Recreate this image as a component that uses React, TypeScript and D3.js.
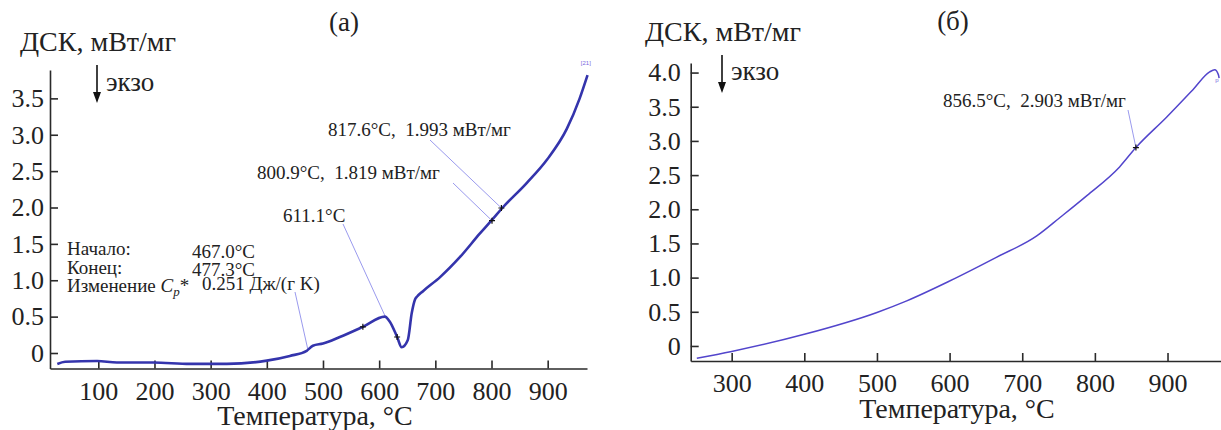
import { useEffect, useRef } from 'react';
import * as d3 from 'd3';

// panel (а): DSC signal, mW/mg, vs temperature, °C
const tempA = [27, 41, 98, 133, 198, 263, 329, 400, 441, 471, 482, 500, 530, 571, 610, 619, 632, 640, 651, 658, 664, 668, 678, 708, 744, 779, 802, 820, 863, 899, 934, 957, 971];
const dscA = [-0.15, -0.12, -0.11, -0.13, -0.13, -0.15, -0.15, -0.105, -0.04, 0.03, 0.1, 0.13, 0.22, 0.36, 0.5, 0.43, 0.22, 0.08, 0.18, 0.55, 0.74, 0.78, 0.85, 1.04, 1.32, 1.64, 1.84, 2.0, 2.34, 2.66, 3.08, 3.5, 3.82];

// panel (б)
const tempB = [252, 300, 400, 500, 541, 600, 665, 720, 752, 789, 834, 856.5, 899, 935, 958, 965, 970, 971];
const dscB = [-0.18, -0.08, 0.17, 0.49, 0.66, 0.95, 1.3, 1.61, 1.88, 2.2, 2.62, 2.903, 3.35, 3.75, 4.01, 4.04, 3.97, 3.92];

const xTicksA = [100, 200, 300, 400, 500, 600, 700, 800, 900];
const yTicksA = [0, 0.5, 1.0, 1.5, 2.0, 2.5, 3.0, 3.5];
const xTicksB = [300, 400, 500, 600, 700, 800, 900];
const yTicksB = [0, 0.5, 1.0, 1.5, 2.0, 2.5, 3.0, 3.5, 4.0];

// small "+" marks put on the curves by the instrument software
const marksA = [[571, 0.36], [632, 0.22], [800.9, 1.819], [817.6, 1.993]];
const marksB = [[856.5, 2.903]];

const SERIF = '"Liberation Serif", "DejaVu Serif", serif';

export default function App() {
  const svgRef = useRef<SVGSVGElement>(null);

  useEffect(() => {
    if (!svgRef.current) return;
    const width = 1221;
    const height = 430;

    d3.select(svgRef.current).selectAll('*').remove();
    const svg = d3
      .select(svgRef.current)
      .attr('viewBox', `0 0 ${width} ${height}`)
      .attr('width', width)
      .attr('height', height);

    // scales
    const xA = d3.scaleLinear().domain([14, 970]).range([50, 587]);
    const yA = d3.scaleLinear().domain([-0.213, 3.89]).range([368.5, 70]);
    const xB = d3.scaleLinear().domain([243.6, 975]).range([690.7, 1222]);
    const yB = d3.scaleLinear().domain([-0.22, 4.14]).range([361, 63]);

    const fmt = (d: d3.NumberValue) => (+d === 0 ? '0' : (+d).toFixed(1));

    const drawAxes = (
      x: d3.ScaleLinear<number, number>,
      y: d3.ScaleLinear<number, number>,
      xt: number[],
      yt: number[],
      yPad: number
    ) => {
      const gx = svg
        .append('g')
        .attr('transform', `translate(0, ${y.range()[0]})`)
        .call(d3.axisBottom(x).tickValues(xt).tickFormat((d) => `${d}`).tickSizeInner(-8).tickSizeOuter(0).tickPadding(13));
      const gy = svg
        .append('g')
        .attr('transform', `translate(${x.range()[0]}, 0)`)
        .call(d3.axisLeft(y).tickValues(yt).tickFormat(fmt).tickSizeInner(-8).tickSizeOuter(0).tickPadding(yPad));
      [gx, gy].forEach((g) => {
        g.attr('font-family', SERIF).attr('font-size', 26);
        g.selectAll('path, line').attr('stroke', '#2a2a2a').attr('stroke-width', 1.6);
        g.selectAll('text').attr('fill', '#222');
      });
    };

    drawAxes(xA, yA, xTicksA, yTicksA, 6);
    drawAxes(xB, yB, xTicksB, yTicksB, 10);

    // curves
    const lineA = d3
      .line<number>()
      .x((d, i) => xA(tempA[i]))
      .y((d) => yA(d))
      .curve(d3.curveMonotoneX);
    const lineB = d3
      .line<number>()
      .x((d, i) => xB(tempB[i]))
      .y((d) => yB(d))
      .curve(d3.curveMonotoneX);

    // leader lines
    const leader = '#9a9aee';
    const leadersA = [
      { from: [430, 140], t: 817.6, v: 1.993 },
      { from: [453, 183], t: 800.9, v: 1.819 },
      { from: [343, 224], t: 611, v: 0.5 },
      { from: [295, 292], t: 473, v: 0.05 },
    ];
    leadersA.forEach((l) => {
      svg
        .append('line')
        .attr('x1', l.from[0])
        .attr('y1', l.from[1])
        .attr('x2', xA(l.t))
        .attr('y2', yA(l.v))
        .attr('stroke', leader)
        .attr('stroke-width', 1);
    });
    svg
      .append('line')
      .attr('x1', 1128)
      .attr('y1', 110)
      .attr('x2', xB(856.5))
      .attr('y2', yB(2.903))
      .attr('stroke', leader)
      .attr('stroke-width', 1);

    svg
      .append('path')
      .datum(dscA)
      .attr('d', lineA)
      .attr('fill', 'none')
      .attr('stroke', '#3434ac')
      .attr('stroke-width', 2.6);
    svg
      .append('path')
      .datum(dscB)
      .attr('d', lineB)
      .attr('fill', 'none')
      .attr('stroke', '#5245cc')
      .attr('stroke-width', 1.5);

    // plus marks
    const plus = (cx: number, cy: number) => {
      svg
        .append('path')
        .attr('d', `M${cx - 3},${cy}H${cx + 3}M${cx},${cy - 3}V${cy + 3}`)
        .attr('stroke', '#111')
        .attr('stroke-width', 1.2);
    };
    marksA.forEach(([t, v]) => plus(xA(t), yA(v)));
    marksB.forEach(([t, v]) => plus(xB(t), yB(v)));

    // tiny end labels of the software
    svg.append('text').attr('x', xA(968)).attr('y', yA(3.9) - 4).attr('text-anchor', 'middle')
      .attr('font-family', 'sans-serif').attr('font-size', 6).attr('fill', '#7a6ae0').text('[21]');
    svg.append('text').attr('x', xB(968)).attr('y', yB(3.86)).attr('text-anchor', 'middle')
      .attr('font-family', 'sans-serif').attr('font-size', 6).attr('fill', '#7a6ae0').text('p');

    const text = (x: number, y: number, s: string, size: number, anchor = 'start') =>
      svg
        .append('text')
        .attr('x', x)
        .attr('y', y)
        .attr('text-anchor', anchor)
        .attr('font-family', SERIF)
        .attr('font-size', size)
        .attr('fill', '#222')
        .text(s);

    // titles
    text(344, 31, '(а)', 27, 'middle');
    text(953, 30, '(б)', 27, 'middle');
    text(20, 51, 'ДСК, мВт/мг', 28);
    text(645, 41, 'ДСК, мВт/мг', 28);
    text(315, 425, 'Температура, °C', 28, 'middle');
    text(957, 418, 'Температура, °C', 28, 'middle');

    // exo arrows
    const exo = (x: number, y0: number, y1: number, dy: number) => {
      svg.append('line').attr('x1', x).attr('y1', y0).attr('x2', x).attr('y2', y1 - 8)
        .attr('stroke', '#111').attr('stroke-width', 1.6);
      svg.append('path').attr('d', `M${x - 4},${y1 - 11}L${x + 4},${y1 - 11}L${x},${y1}Z`).attr('fill', '#111');
      text(x + 9, y0 + dy, 'экзо', 27);
    };
    exo(97, 65, 103, 26);
    exo(722, 55, 93, 25);

    // annotations (а)
    const small = 19;
    text(328, 136, '817.6°C,\u00a0 1.993 мВт/мг', small);
    text(257, 179, '800.9°C,\u00a0 1.819 мВт/мг', small);
    text(283, 222, '611.1°C', small);
    text(67, 255, 'Начало:', small);
    text(192, 258, '467.0°C', small);
    text(67, 274, 'Конец:', small);
    text(192, 276, '477.3°C', small);
    const cp = text(67, 292, 'Изменение ', small);
    cp.append('tspan').attr('font-style', 'italic').text('C');
    cp.append('tspan').attr('font-style', 'italic').attr('font-size', 13).attr('dy', 4).text('p');
    cp.append('tspan').attr('dy', -4).text('*');
    text(202, 290, '0.251 Дж/(г K)', small);

    // annotation (б)
    text(943, 107, '856.5°C,\u00a0 2.903 мВт/мг', small);
  }, []);

  return <svg ref={svgRef} style={{ position: 'absolute', left: 0, top: 0, background: '#fff' }} />;
}
